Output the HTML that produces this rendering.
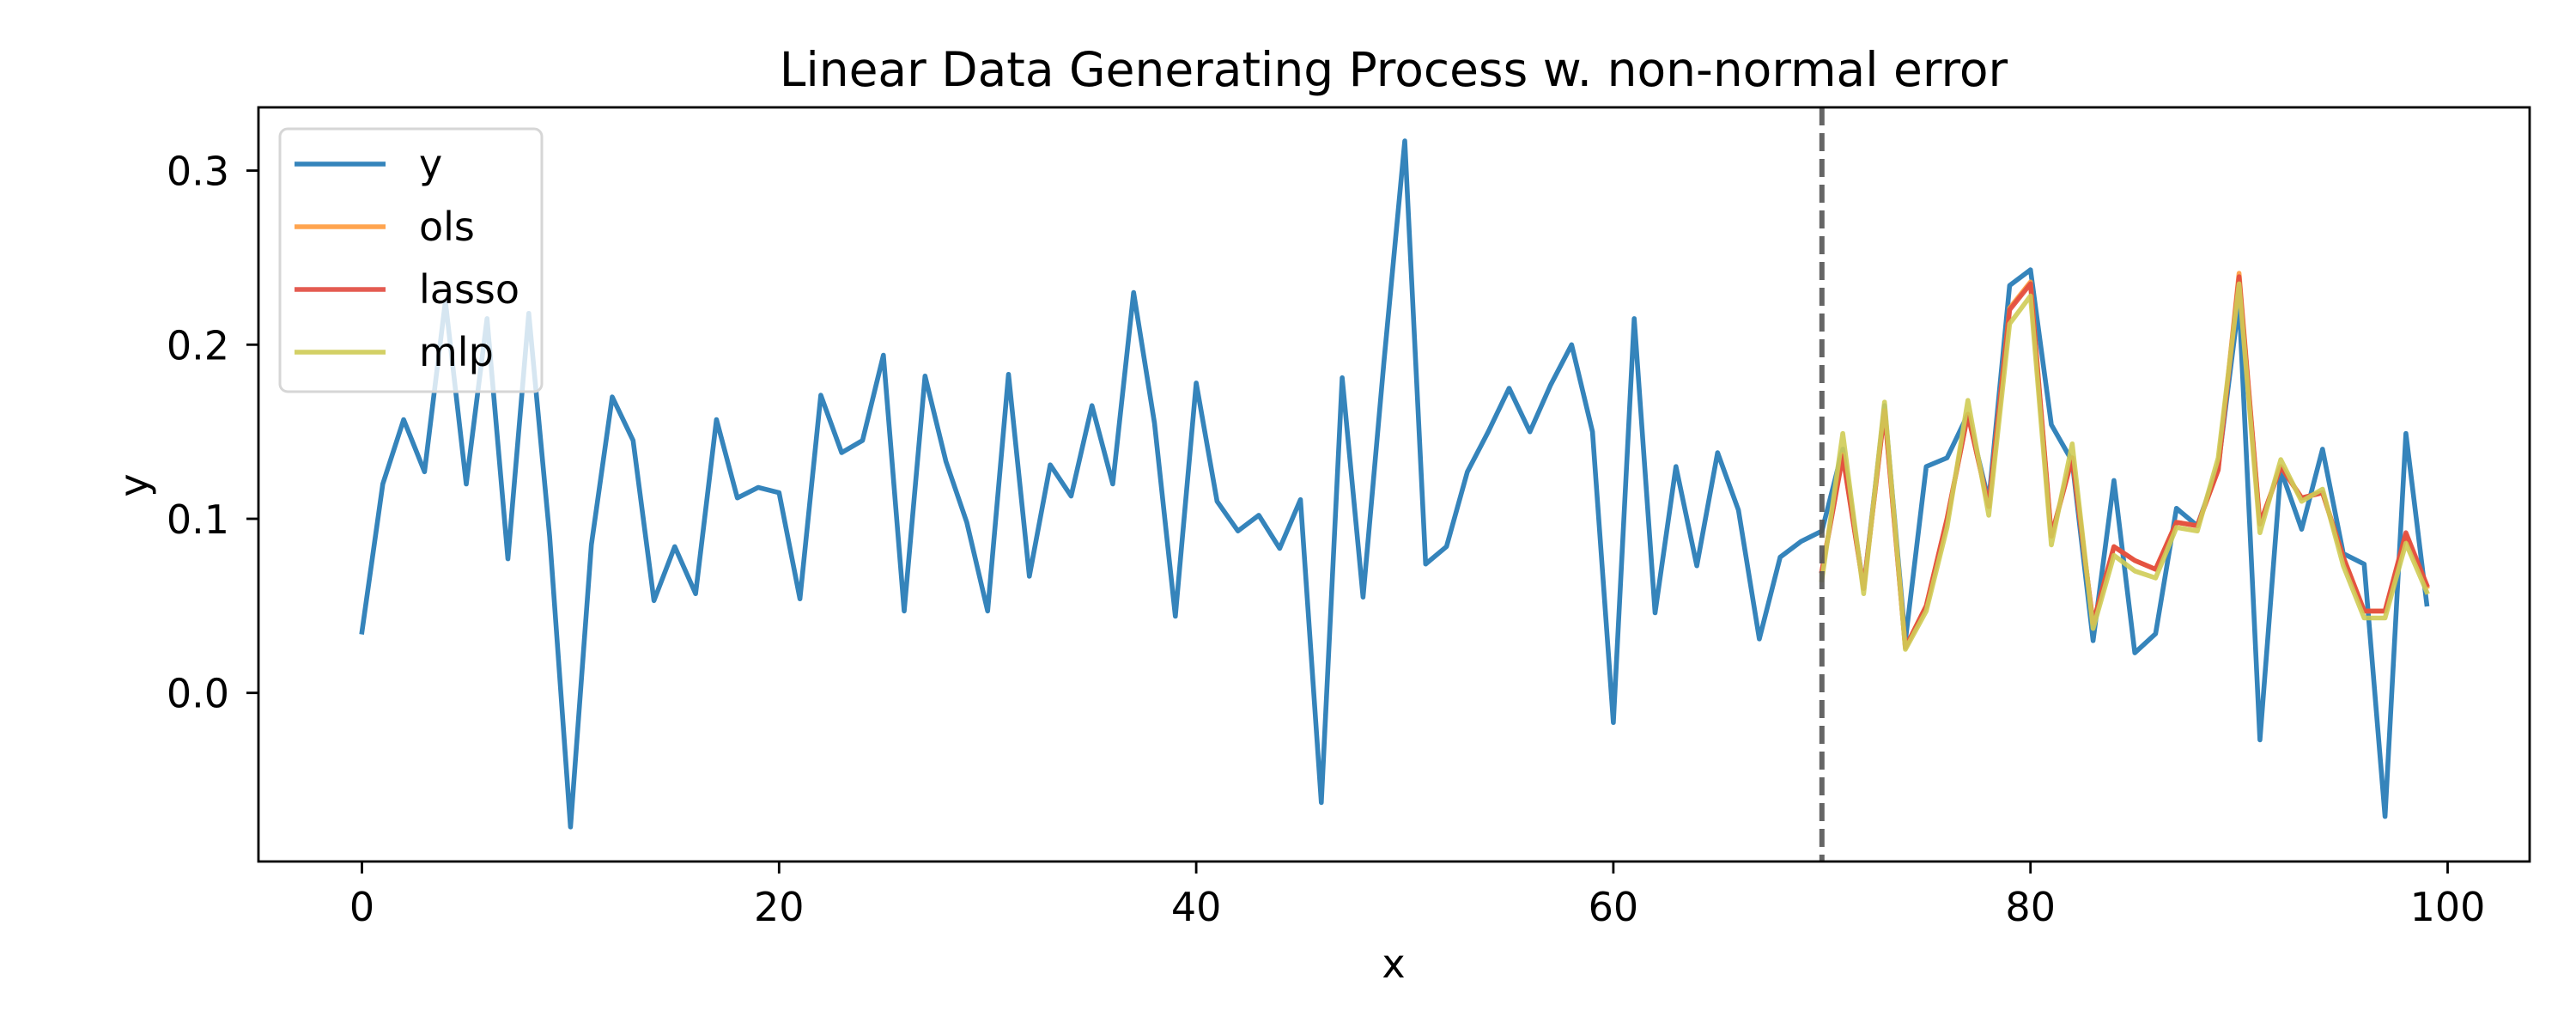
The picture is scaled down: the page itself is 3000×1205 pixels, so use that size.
<!DOCTYPE html>
<html><head><meta charset="utf-8"><style>
body{margin:0;background:#fff}
svg text{font-family:"DejaVu Sans","Liberation Sans",sans-serif;fill:#000}
</style></head><body>
<svg id="chart" width="3000" height="1200" xmlns="http://www.w3.org/2000/svg">
<rect width="3000" height="1200" fill="#fff"/>
<text x="1623" y="100" font-size="55" text-anchor="middle">Linear Data Generating Process w. non-normal error</text>
<g id="plot"></g>
<text x="1623" y="1138" font-size="46" text-anchor="middle">x</text>
<text transform="translate(172,565) rotate(-90)" font-size="46" text-anchor="middle">y</text>
</svg>
<script>
const yVals=[0.035,0.12,0.157,0.127,0.225,0.12,0.215,0.077,0.218,0.09,-0.077,0.085,0.17,0.145,0.053,0.084,0.057,0.157,0.112,0.118,0.115,0.054,0.171,0.138,0.145,0.194,0.047,0.182,0.133,0.098,0.047,0.183,0.067,0.131,0.113,0.165,0.12,0.23,0.155,0.044,0.178,0.11,0.093,0.102,0.083,0.111,-0.063,0.181,0.055,0.19,0.317,0.074,0.084,0.127,0.15,0.175,0.15,0.177,0.2,0.15,-0.017,0.215,0.046,0.13,0.073,0.138,0.105,0.031,0.078,0.087,0.093,0.14,0.06,0.165,0.03,0.13,0.135,0.16,0.11,0.234,0.243,0.154,0.133,0.03,0.122,0.023,0.034,0.106,0.096,0.13,0.225,-0.027,0.128,0.094,0.14,0.08,0.074,-0.071,0.149,0.051];
const predStart=70;
const olsVals=[0.07,0.137,0.06,0.162,0.026,0.05,0.1,0.16,0.107,0.221,0.236,0.09,0.135,0.04,0.084,0.076,0.071,0.098,0.096,0.128,0.241,0.097,0.13,0.112,0.115,0.078,0.047,0.047,0.091,0.061];
const lassoVals=[0.07,0.136,0.06,0.162,0.026,0.05,0.1,0.16,0.107,0.22,0.235,0.09,0.135,0.04,0.084,0.076,0.071,0.098,0.096,0.128,0.239,0.097,0.13,0.112,0.115,0.078,0.047,0.047,0.092,0.062];
const mlpVals=[0.065,0.149,0.057,0.167,0.025,0.047,0.095,0.168,0.102,0.212,0.228,0.085,0.143,0.037,0.079,0.07,0.066,0.095,0.093,0.135,0.235,0.092,0.134,0.11,0.117,0.073,0.043,0.043,0.086,0.058];
const xTicks=[0,20,40,60,80,100];
const yTicks=[0.0,0.1,0.2,0.3];
const yTickLabels=["0.0","0.1","0.2","0.3"];

const L=301,R=2946,T=125,B=1003;
const sx=v=>421.5+v*24.29;
const sy=v=>806.7-v*2027;
const NS="http://www.w3.org/2000/svg";
const g=document.getElementById('plot');
function mk(t,a){const e=document.createElementNS(NS,t);for(const k in a)e.setAttribute(k,a[k]);g.appendChild(e);return e;}

function line(vals,start,color,w,name){
  const pts=vals.map((v,i)=>sx(start+i).toFixed(1)+','+sy(v).toFixed(1)).join(' ');
  const p=mk('polyline',{points:pts,fill:'none',stroke:color,'stroke-width':w,'stroke-linejoin':'round','stroke-linecap':'square',opacity:0.9});
  
  
}
line(yVals,0,'#1f77b4',5.6,'series-y');
line(olsVals,predStart,'#ff9b3d',5.6,'series-ols');
line(lassoVals,predStart,'#e24a3f',5.6,'series-lasso');
line(mlpVals,predStart,'#cfcc55',5.6,'series-mlp');

const dl=mk('line',{x1:sx(predStart),x2:sx(predStart),y1:T,y2:B,stroke:'#555',"stroke-width":6,"stroke-dasharray":"21 9",opacity:0.9});



const fr=mk('rect',{x:L,y:T,width:R-L,height:B-T,fill:'none',stroke:'#000','stroke-width':2.8});



xTicks.forEach(t=>{
  const tk=mk('line',{x1:sx(t),x2:sx(t),y1:B,y2:B+14,stroke:'#000','stroke-width':2.8});
  
  
  const tx=mk('text',{x:sx(t),y:1072,'font-size':46,'text-anchor':'middle'});
  tx.textContent=t;
  
  
});
yTicks.forEach((t,i)=>{
  const tk=mk('line',{x1:L-14,x2:L,y1:sy(t),y2:sy(t),stroke:'#000','stroke-width':2.8});
  
  
  const tx=mk('text',{x:267,y:sy(t)+17,'font-size':46,'text-anchor':'end'});
  tx.textContent=yTickLabels[i];
  
  
});

const lb=mk('rect',{x:326,y:150,width:305,height:306,rx:9,fill:'#fff','fill-opacity':0.8,stroke:'#d6d6d6','stroke-width':3});


const legNames=['y','ols','lasso','mlp'];
const legColors=['#1f77b4','#ff9b3d','#e24a3f','#cfcc55'];
legNames.forEach((n,i)=>{
  const yy=191+i*73;
  const ll=mk('line',{x1:343,x2:449,y1:yy,y2:yy,stroke:legColors[i],'stroke-width':5.6,opacity:0.9});
  
  
  const tx=mk('text',{x:488,y:yy+16,'font-size':46});
  tx.textContent=n;
  
  
});
</script>
</body></html>
